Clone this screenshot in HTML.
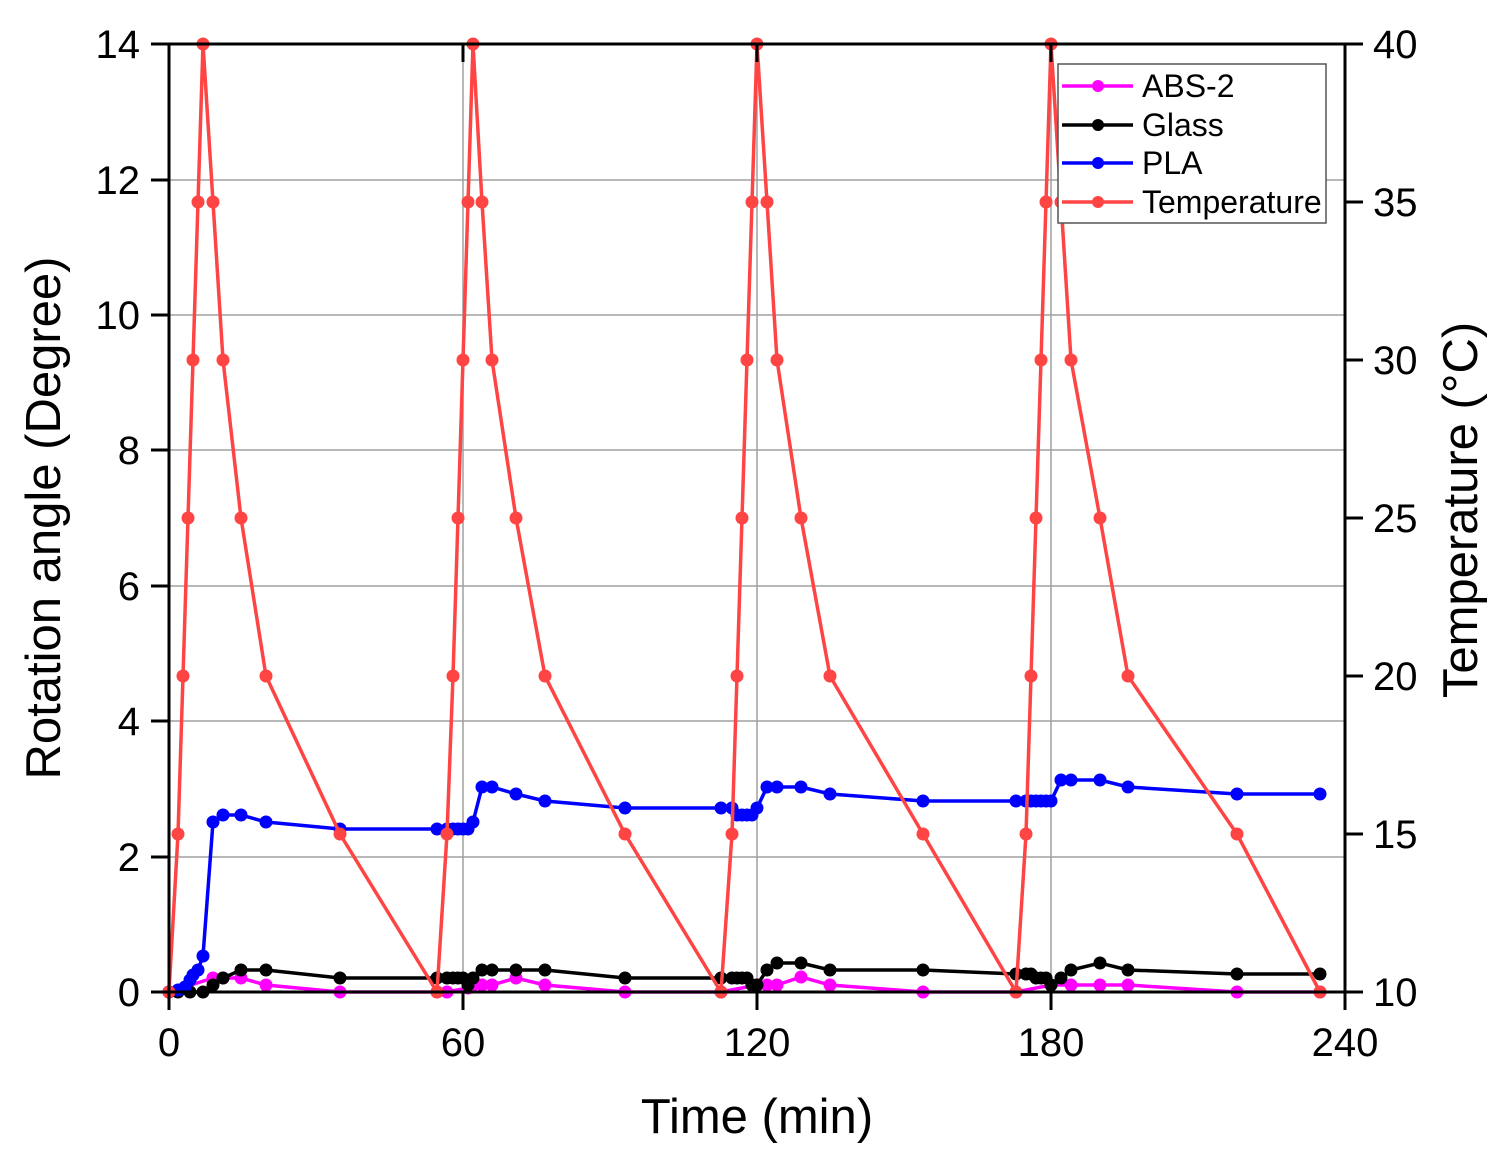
<!DOCTYPE html>
<html><head><meta charset="utf-8"><style>html,body{margin:0;padding:0;background:#fff}svg{display:block}</style></head>
<body>
<svg id="s" width="1510" height="1164" xmlns="http://www.w3.org/2000/svg" font-family="Liberation Sans, sans-serif">
<rect width="1510" height="1164" fill="#fff"/>
<g stroke="#a0a0a0" stroke-width="1.5">
<line x1="169" y1="857" x2="1345" y2="857"/><line x1="169" y1="721" x2="1345" y2="721"/>
<line x1="169" y1="586" x2="1345" y2="586"/><line x1="169" y1="450" x2="1345" y2="450"/>
<line x1="169" y1="315" x2="1345" y2="315"/><line x1="169" y1="180" x2="1345" y2="180"/>
<line x1="463" y1="44" x2="463" y2="992"/><line x1="757" y1="44" x2="757" y2="992"/><line x1="1051" y1="44" x2="1051" y2="992"/>
</g>
<g id="data"></g>
<g stroke="#000" stroke-width="3" fill="none">
<rect x="169" y="44" width="1176" height="948"/>
<line x1="151" y1="44" x2="169" y2="44"/><line x1="151" y1="180" x2="169" y2="180"/><line x1="151" y1="315" x2="169" y2="315"/><line x1="151" y1="450" x2="169" y2="450"/><line x1="151" y1="586" x2="169" y2="586"/><line x1="151" y1="721" x2="169" y2="721"/><line x1="151" y1="857" x2="169" y2="857"/><line x1="151" y1="992" x2="169" y2="992"/>
<line x1="1345" y1="44" x2="1363" y2="44"/><line x1="1345" y1="202" x2="1363" y2="202"/><line x1="1345" y1="360" x2="1363" y2="360"/><line x1="1345" y1="518" x2="1363" y2="518"/><line x1="1345" y1="676" x2="1363" y2="676"/><line x1="1345" y1="834" x2="1363" y2="834"/><line x1="1345" y1="992" x2="1363" y2="992"/>
<line x1="169" y1="992" x2="169" y2="1010"/><line x1="463" y1="992" x2="463" y2="1010"/><line x1="757" y1="992" x2="757" y2="1010"/><line x1="1051" y1="992" x2="1051" y2="1010"/><line x1="1345" y1="992" x2="1345" y2="1010"/>
<line x1="463" y1="44" x2="463" y2="62"/><line x1="757" y1="44" x2="757" y2="62"/><line x1="1051" y1="44" x2="1051" y2="62"/>
</g>
<g font-size="40" fill="#000" text-anchor="end">
<text x="140" y="58">14</text><text x="140" y="194">12</text><text x="140" y="329">10</text><text x="140" y="464">8</text><text x="140" y="600">6</text><text x="140" y="735">4</text><text x="140" y="871">2</text><text x="140" y="1006">0</text>
</g>
<g font-size="40" fill="#000">
<text x="1373" y="58">40</text><text x="1373" y="216">35</text><text x="1373" y="374">30</text><text x="1373" y="532">25</text><text x="1373" y="690">20</text><text x="1373" y="848">15</text><text x="1373" y="1006">10</text>
</g>
<g font-size="40" fill="#000" text-anchor="middle">
<text x="169" y="1056">0</text><text x="463" y="1056">60</text><text x="757" y="1056">120</text><text x="1051" y="1056">180</text><text x="1345" y="1056">240</text>
</g>
<text x="757" y="1133" font-size="49" text-anchor="middle">Time (min)</text>
<text transform="translate(60,518) rotate(-90)" font-size="49" text-anchor="middle">Rotation angle (Degree)</text>
<text transform="translate(1477,510) rotate(-90)" font-size="49" text-anchor="middle">Temperature (°C)</text>
<rect x="1058" y="64" width="268" height="159" fill="#fff" stroke="#555" stroke-width="1.5"/>
<g stroke-width="3.5">
<line x1="1062" y1="86" x2="1133" y2="86" stroke="#ff00ff"/><circle cx="1098" cy="86" r="6" fill="#ff00ff"/>
<line x1="1062" y1="125" x2="1133" y2="125" stroke="#000"/><circle cx="1098" cy="125" r="6" fill="#000"/>
<line x1="1062" y1="163" x2="1133" y2="163" stroke="#0000ff"/><circle cx="1098" cy="163" r="6" fill="#0000ff"/>
<line x1="1062" y1="202" x2="1133" y2="202" stroke="#f44"/><circle cx="1098" cy="202" r="6" fill="#f44"/>
</g>
<g font-size="32" fill="#000">
<text x="1142" y="97">ABS-2</text><text x="1142" y="136">Glass</text><text x="1142" y="174">PLA</text><text x="1142" y="213">Temperature</text>
</g>
<script>
const series=[
["#ff00ff",[[169,992],[213,978],[223,978],[241,978],[266,985],[340,992],[437,992],[447,992],[468,988],[473,985],[482,985],[492,985],[516,978],[545,985],[625,992],[721,992],[757,985],[767,985],[777,985],[801,977],[830,985],[923,992],[1016,992],[1051,985],[1071,985],[1100,985],[1128,985],[1237,992],[1320,992]]],
["#000",[[169,992],[178,992],[190,992],[203,992],[213,985],[223,978],[241,970],[266,970],[340,978],[437,978],[447,978],[453,978],[458,978],[463,978],[468,985],[473,978],[482,970],[492,970],[516,970],[545,970],[625,978],[721,978],[732,978],[737,978],[742,978],[747,978],[752,985],[757,985],[767,970],[777,963],[801,963],[830,970],[923,970],[1016,974],[1026,974],[1031,974],[1036,978],[1041,978],[1046,978],[1051,985],[1061,978],[1071,970],[1100,963],[1128,970],[1237,974],[1320,974]]],
["#0000ff",[[169,992],[178,990],[185,987],[190,980],[193,975],[198,970],[203,956],[213,822],[223,815],[241,815],[266,822],[340,829],[437,829],[447,829],[453,829],[458,829],[463,829],[468,829],[473,822],[482,787],[492,787],[516,794],[545,801],[625,808],[721,808],[732,808],[737,815],[742,815],[747,815],[752,815],[757,808],[767,787],[777,787],[801,787],[830,794],[923,801],[1016,801],[1026,801],[1031,801],[1036,801],[1041,801],[1046,801],[1051,801],[1061,780],[1071,780],[1100,780],[1128,787],[1237,794],[1320,794]]],
["#f44",[[169,992],[178,834],[183,676],[188,518],[193,360],[198,202],[203,44],[213,202],[223,360],[241,518],[266,676],[340,834],[437,992],[447,834],[453,676],[458,518],[463,360],[468,202],[473,44],[482,202],[492,360],[516,518],[545,676],[625,834],[721,992],[732,834],[737,676],[742,518],[747,360],[752,202],[757,44],[767,202],[777,360],[801,518],[830,676],[923,834],[1016,992],[1026,834],[1031,676],[1036,518],[1041,360],[1046,202],[1051,44],[1061,202],[1071,360],[1100,518],[1128,676],[1237,834],[1320,992]]]
];
const g=document.getElementById('data');const NS="http://www.w3.org/2000/svg";
for(const [c,pts] of series){const p=document.createElementNS(NS,'polyline');p.setAttribute('points',pts.map(a=>a.join(',')).join(' '));p.setAttribute('fill','none');p.setAttribute('stroke',c);p.setAttribute('stroke-width','3.5');g.appendChild(p);
for(const [x,y] of pts){const ci=document.createElementNS(NS,'circle');ci.setAttribute('cx',x);ci.setAttribute('cy',y);ci.setAttribute('r','6.5');ci.setAttribute('fill',c);g.appendChild(ci);}}
</script>
</svg>
</body></html>
